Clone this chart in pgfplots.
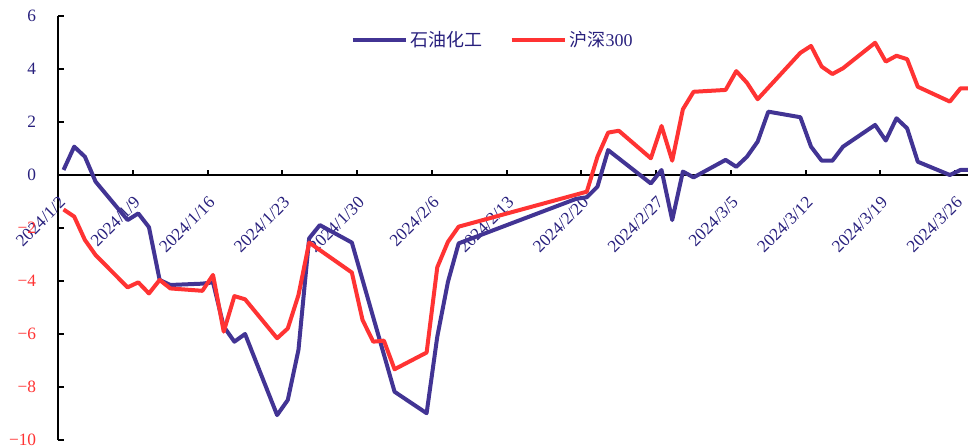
\documentclass[border=0pt]{standalone}
\usepackage{pgfplots}
\pgfplotsset{compat=1.18}
\usepackage{fontspec}
\setmainfont{Liberation Serif}
\newfontfamily\cjk{Noto Sans CJK SC}
\definecolor{lineblue}{RGB}{66,52,148}
\definecolor{lblue}{RGB}{40,32,125}
\definecolor{lred}{RGB}{255,51,51}
\begin{document}
\begin{tikzpicture}[x=0.75pt,y=0.75pt]
\begin{axis}[
  name=ax,
  scale only axis,
  width=682.35pt, height=318pt,
  xmin=0, xmax=85.2,
  ymin=-10, ymax=6,
  axis x line=middle,
  axis y line=left,
  hide obscured x ticks=false,
  axis line style={-, black, line width=1.8pt},
  tick align=inside,
  major tick length=4pt,
  tick style={black, line width=1.5pt},
  xtick={0,7,...,84},
  xticklabels={2024/1/2,2024/1/9,2024/1/16,2024/1/23,2024/1/30,2024/2/6,2024/2/13,2024/2/20,2024/2/27,2024/3/5,2024/3/12,2024/3/19,2024/3/26},
  xticklabel style={xshift=0pt, yshift=-10.5pt, rotate=45, anchor=north east, text=lblue, font=\fontsize{13}{15}\selectfont},
  ytick={-10,-8,...,6},
  yticklabels={\textcolor{lred}{−10},\textcolor{lred}{−8},\textcolor{lred}{−6},\textcolor{lred}{−4},\textcolor{lred}{−2},0,2,4,6},
  yticklabel style={text=lblue, xshift=-13pt, font=\fontsize{13}{15}\selectfont},
  legend style={at={(0.478,0.943)}, anchor=center, draw=none, fill=none,
    legend columns=2, font=\fontsize{13.5}{15}\selectfont, text=lblue,
    /tikz/every even column/.append style={column sep=18pt}},
  legend image code/.code={\draw[#1] (0pt,0pt) -- (40pt,0pt);},
  every axis plot/.append style={line width=3pt, line join=round, mark=none},
]
\addplot[lineblue] coordinates {
(0.5,0.19) (1.5,1.07) (2.5,0.69) (3.5,-0.25) (6.5,-1.70) (7.5,-1.45) (8.5,-1.97) (9.5,-3.96) (10.5,-4.15)
(13.5,-4.10) (14.5,-4.05) (15.5,-5.72) (16.5,-6.29) (17.5,-6.00)
(20.5,-9.06) (21.5,-8.49) (22.5,-6.60) (23.5,-2.39) (24.5,-1.89)
(27.5,-2.55) (31.5,-8.18)
(34.5,-8.99) (35.5,-6.10) (36.5,-4.03) (37.5,-2.58)
(48.5,-0.90) (49.5,-0.84) (50.5,-0.44) (51.5,0.94)
(55.5,-0.32) (56.5,0.19) (57.5,-1.70) (58.5,0.13) (59.5,-0.09)
(62.5,0.57) (63.5,0.31) (64.5,0.69) (65.5,1.26) (66.5,2.39)
(69.5,2.18) (70.5,1.07) (71.5,0.54) (72.5,0.54) (73.5,1.07)
(76.5,1.89) (77.5,1.30) (78.5,2.14) (79.5,1.76) (80.5,0.50)
(83.5,0.00) (84.5,0.19) (85.5,0.20)
};
\addlegendentry{\cjk 石油化工}
\addplot[lred] coordinates {
(0.5,-1.30) (1.5,-1.57) (2.5,-2.45) (3.5,-3.02) (6.5,-4.24) (7.5,-4.05) (8.5,-4.47) (9.5,-3.96) (10.5,-4.28)
(13.5,-4.37) (14.5,-3.77) (15.5,-5.91) (16.5,-4.57) (17.5,-4.69)
(20.5,-6.16) (21.5,-5.79) (22.5,-4.53) (23.5,-2.55)
(27.5,-3.68) (28.5,-5.47) (29.5,-6.29) (30.5,-6.25) (31.5,-7.33)
(34.5,-6.70) (35.5,-3.48) (36.5,-2.52) (37.5,-1.95)
(48.5,-0.74) (49.5,-0.63) (50.5,0.69) (51.5,1.60) (52.5,1.67)
(55.5,0.63) (56.5,1.85) (57.5,0.54) (58.5,2.48) (59.5,3.14)
(62.5,3.21) (63.5,3.92) (64.5,3.48) (65.5,2.86)
(69.5,4.61) (70.5,4.87) (71.5,4.09) (72.5,3.81) (73.5,4.03)
(76.5,4.99) (77.5,4.28) (78.5,4.50) (79.5,4.37) (80.5,3.33)
(83.5,2.77) (84.5,3.27) (85.5,3.27)
};
\addlegendentry{{\cjk 沪深}300}
\end{axis}
\pgfresetboundingbox
\path ([xshift=-43.65pt,yshift=-5.25pt]ax.south west) rectangle ([yshift=12pt]ax.north east);
\end{tikzpicture}
\end{document}
